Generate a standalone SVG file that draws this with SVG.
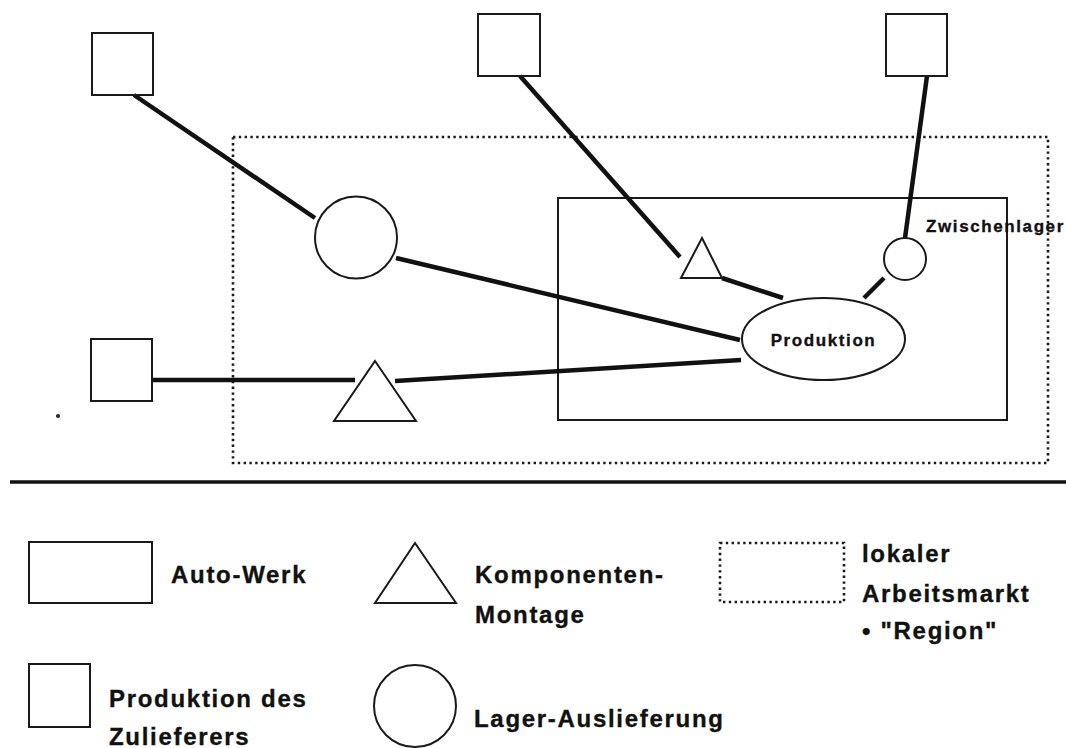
<svg xmlns="http://www.w3.org/2000/svg" width="1066" height="748" viewBox="0 0 1066 748">
  <style>
    .shape { fill: none; stroke: #1a1a1a; stroke-width: 2; }
    .dotted { fill: none; stroke: #1a1a1a; stroke-width: 2.6; stroke-dasharray: 2.4 3.4; }
    .link { stroke: #111; stroke-width: 4.5; stroke-linecap: butt; fill: none; }
    .lbl { font-family: "Liberation Sans", Arial, sans-serif; font-weight: bold; fill: #111; stroke: #111; stroke-width: 0.35; }
    .legend { font-size: 24px; letter-spacing: 1.7px; }
    .small { font-size: 17px; letter-spacing: 1.6px; }
  </style>
  <rect width="1066" height="748" fill="#ffffff"/>

  <!-- region and plant frames -->
  <g id="region">
    <rect class="dotted" x="233" y="137" width="815" height="326"/>
  </g>
  <g id="auto-werk">
    <rect class="shape" x="558" y="198" width="449" height="222"/>
  </g>

  <!-- connectors -->
  <g id="connectors">
    <line class="link" x1="134" y1="95" x2="315" y2="218"/>
    <line class="link" x1="396" y1="258" x2="740" y2="340"/>
    <line class="link" x1="152" y1="380" x2="355" y2="380"/>
    <line class="link" x1="395" y1="381" x2="741" y2="360"/>
    <line class="link" x1="520" y1="76" x2="680" y2="257"/>
    <line class="link" x1="722" y1="278" x2="783" y2="298"/>
    <line class="link" x1="927" y1="76" x2="905" y2="238"/>
    <line class="link" x1="884" y1="278" x2="864" y2="298"/>
  </g>

  <!-- supplier plants -->
  <g id="supplier-1"><rect class="shape" x="92" y="33" width="61" height="62"/></g>
  <g id="supplier-2"><rect class="shape" x="478" y="14" width="62" height="62"/></g>
  <g id="supplier-3"><rect class="shape" x="886" y="14" width="61" height="62"/></g>
  <g id="supplier-4"><rect class="shape" x="91" y="339" width="61" height="62"/></g>

  <!-- warehouse / delivery -->
  <g id="lager"><circle class="shape" cx="356" cy="237.5" r="41"/></g>

  <!-- component assembly -->
  <g id="montage-1"><polygon class="shape" points="375,361 416,421 334,421"/></g>
  <g id="montage-2"><polygon class="shape" points="702,238 722,278 681,278"/></g>

  <!-- intermediate storage -->
  <g id="zwischenlager">
    <circle class="shape" cx="905" cy="259" r="21"/>
    <text class="lbl small" x="926" y="232" letter-spacing="1.2px">Zwischenlager</text>
  </g>

  <!-- production -->
  <g id="produktion">
    <ellipse class="shape" cx="823.5" cy="339" rx="81.5" ry="41"/>
    <text class="lbl small" x="823.5" y="346" text-anchor="middle">Produktion</text>
  </g>

  <!-- separator -->
  <line x1="10" y1="482" x2="1066" y2="482" stroke="#111" stroke-width="3.5"/>

  <!-- legend -->
  <g id="legend-werk">
    <rect class="shape" x="29" y="542" width="123" height="61"/>
    <text class="lbl legend" x="171" y="583">Auto-Werk</text>
  </g>
  <g id="legend-montage">
    <polygon class="shape" points="415,543 456,603 375,603"/>
    <text class="lbl legend" x="475" y="583">Komponenten-</text>
    <text class="lbl legend" x="475" y="623">Montage</text>
  </g>
  <g id="legend-region">
    <rect class="dotted" x="720" y="543" width="124" height="59"/>
    <text class="lbl legend" x="862" y="562" letter-spacing="1.2px">lokaler</text>
    <text class="lbl legend" x="862" y="602">Arbeitsmarkt</text>
    <text class="lbl legend" x="862" y="639" letter-spacing="1.2px">• "Region"</text>
  </g>
  <g id="legend-zulieferer">
    <rect class="shape" x="29" y="664" width="61" height="63"/>
    <text class="lbl legend" x="109" y="707">Produktion des</text>
    <text class="lbl legend" x="109" y="745">Zulieferers</text>
  </g>
  <g id="legend-lager">
    <circle class="shape" cx="415" cy="706" r="41"/>
    <text class="lbl legend" x="474" y="727">Lager-Auslieferung</text>
  </g>

  <circle cx="58" cy="416" r="2" fill="#222"/>
</svg>
